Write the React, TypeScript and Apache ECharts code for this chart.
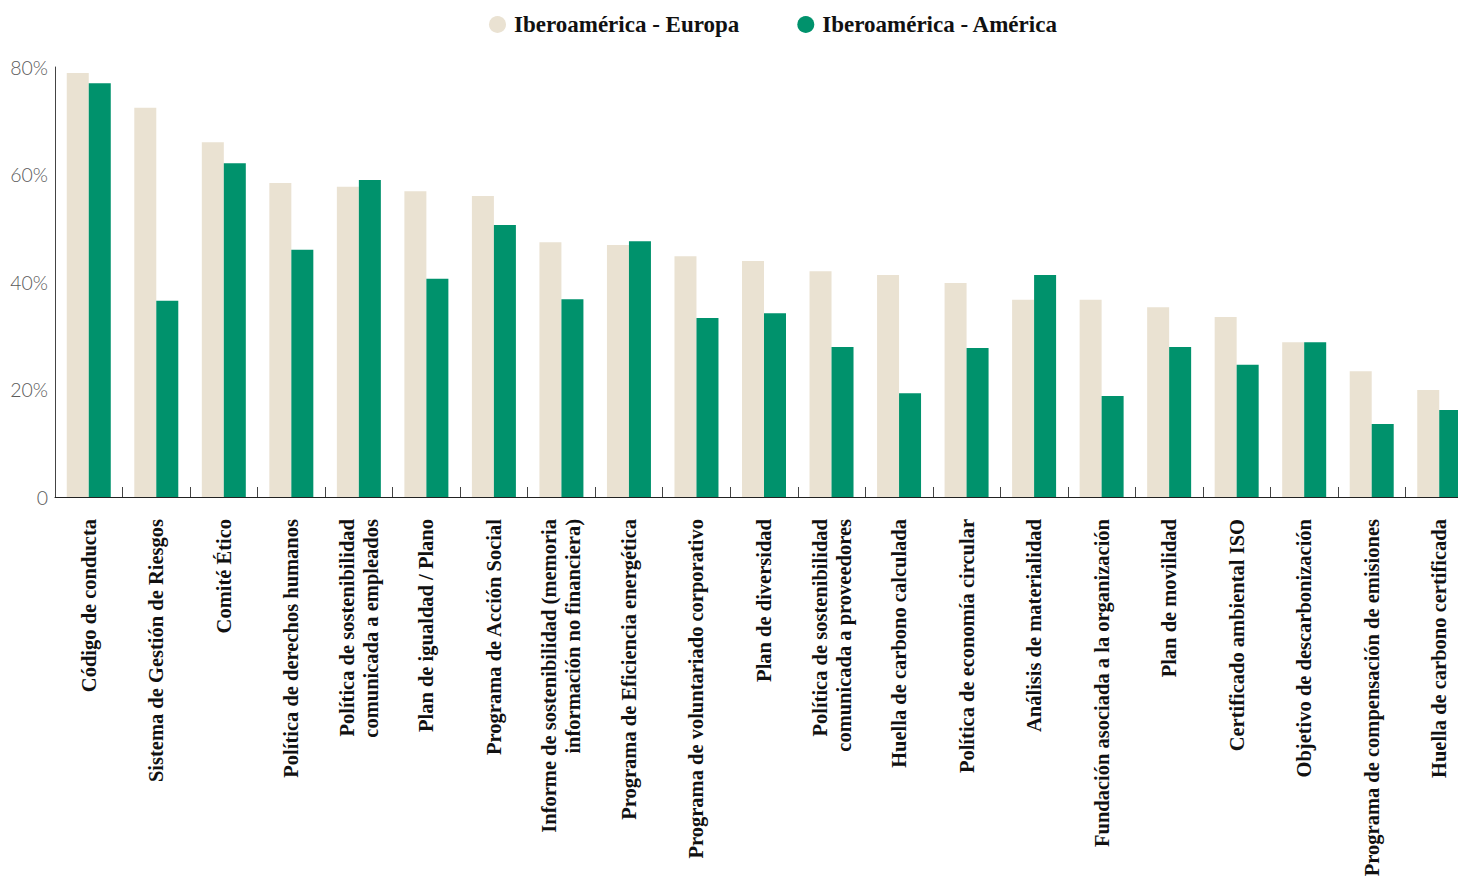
import React, { useEffect, useRef } from "react";
import * as echarts from "echarts";

const categories: string[] = [
  "Código de conducta",
  "Sistema de Gestión de Riesgos",
  "Comité Ético",
  "Política de derechos humanos",
  "Política de sostenibilidad\ncomunicada a empleados",
  "Plan de igualdad / Plano",
  "Programa de Acción Social",
  "Informe de sostenibilidad (memoria\ninformación no financiera)",
  "Programa de Eficiencia energética",
  "Programa de voluntariado corporativo",
  "Plan de diversidad",
  "Política de sostenibilidad\ncomunicada a proveedores",
  "Huella de carbono calculada",
  "Política de economía circular",
  "Análisis de materialidad",
  "Fundación asociada a la organización",
  "Plan de movilidad",
  "Certificado ambiental ISO",
  "Objetivo de descarbonización",
  "Programa de compensación de emisiones",
  "Huella de carbono certificada",
];

const europa: number[] = [
  78.9, 72.4, 66.0, 58.4, 57.7, 56.9, 56.0, 47.4, 46.9, 44.8, 43.9,
  42.0, 41.3, 39.8, 36.7, 36.7, 35.3, 33.5, 28.8, 23.4, 19.9,
];

const america: number[] = [
  77.0, 36.5, 62.1, 46.0, 59.0, 40.6, 50.6, 36.8, 47.6, 33.3, 34.2,
  27.9, 19.3, 27.7, 41.3, 18.8, 27.9, 24.6, 28.8, 13.6, 16.2,
];

const seriesNames: string[] = ["Iberoamérica - Europa", "Iberoamérica - América"];
const yTicks: number[] = [0, 20, 40, 60, 80];

export default function App() {
  const ref = useRef<HTMLDivElement>(null);
  useEffect(() => {
    if (!ref.current) return;
    const chart = echarts.init(ref.current, undefined, { renderer: "svg" });
    chart.setOption({
      animation: false,
      legend: {
        top: 8,
        left: 484,
        itemWidth: 17,
        itemHeight: 17,
        itemGap: 58,
        icon: "circle",
        textStyle: {
          fontFamily: "Liberation Serif",
          fontWeight: "bold",
          fontSize: 23,
          color: "#111",
          padding: [0, 0, 0, 3],
        },
        data: seriesNames,
      },
      grid: { left: 55, right: 0, top: 67, bottom: 385, containLabel: false },
      xAxis: {
        type: "category",
        data: categories,
        axisLine: { lineStyle: { color: "#222", width: 1 } },
        axisTick: { show: true, inside: true, length: 10, lineStyle: { color: "#444" } },
        axisLabel: {
          rotate: 90,
          interval: 0,
          margin: 22,
          fontFamily: "Liberation Serif",
          fontWeight: "bold",
          fontSize: 20.5,
          lineHeight: 24,
          color: "#111",
        },
      },
      yAxis: {
        type: "value",
        min: yTicks[0],
        max: yTicks[yTicks.length - 1],
        interval: 20,
        axisLine: { show: true, lineStyle: { color: "#444", width: 1 } },
        axisTick: { show: false },
        splitLine: { show: false },
        axisLabel: {
          formatter: (v: number) => (v === 0 ? "0" : v + "%"),
          fontFamily: "Lato",
          fontWeight: 300,
          fontSize: 19.5,
          color: "#5a5a5a",
          margin: 7,
        },
      },
      series: [
        {
          name: seriesNames[0],
          type: "bar",
          data: europa,
          barWidth: 22,
          barGap: "0%",
          itemStyle: { color: "#EAE2D2" },
        },
        {
          name: seriesNames[1],
          type: "bar",
          data: america,
          barWidth: 22,
          barGap: "0%",
          itemStyle: { color: "#00926C" },
        },
      ],
    });
    return () => chart.dispose();
  }, []);
  return (
    <div
      style={{
        position: "absolute",
        left: 0,
        top: 0,
        width: 1458,
        height: 882,
        overflow: "hidden",
        background: "#fff",
      }}
    >
      <div ref={ref} style={{ width: 1473, height: 882 }} />
    </div>
  );
}
